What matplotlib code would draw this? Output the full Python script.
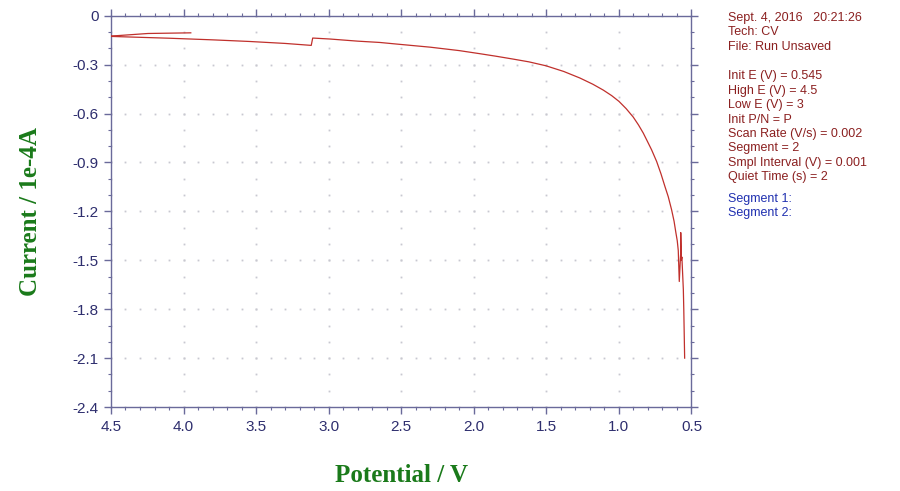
import numpy as np
import matplotlib
matplotlib.use("Agg")
import matplotlib.pyplot as plt

# segment 1: 0.545 V -> 4.5 V, then segment 2 starts back toward 3.95 V
potential = [0.547, 0.550, 0.553, 0.556, 0.560, 0.566, 0.570, 0.574, 0.574, 0.578, 0.584, 0.591,
             0.598, 0.607, 0.620, 0.637, 0.660, 0.683, 0.710, 0.740, 0.775, 0.809, 0.832, 0.865,
             0.901, 0.950, 1.000, 1.050, 1.108, 1.180, 1.269, 1.380, 1.503, 1.620, 1.729, 1.850,
             1.958, 2.100, 2.300, 2.530, 2.648, 2.800, 2.990, 3.110, 3.120, 3.300, 3.545, 3.800,
             4.100, 4.500,
             4.500, 4.245, 3.950]
current = [-2.10, -1.95, -1.80, -1.68, -1.60, -1.48, -1.50, -1.33, -1.45, -1.52, -1.63, -1.44,
           -1.38, -1.333, -1.26, -1.19, -1.11, -1.047, -0.97, -0.894, -0.822, -0.761, -0.72, -0.67,
           -0.622, -0.57, -0.525, -0.49, -0.456, -0.42, -0.382, -0.342, -0.307, -0.283, -0.266, -0.248,
           -0.233, -0.214, -0.193, -0.174, -0.164, -0.156, -0.143, -0.137, -0.182, -0.170, -0.158, -0.148,
           -0.138, -0.127,
           -0.125, -0.109, -0.105]

x_ticks = [4.5, 4.0, 3.5, 3.0, 2.5, 2.0, 1.5, 1.0, 0.5]
y_ticks = [0, -0.3, -0.6, -0.9, -1.2, -1.5, -1.8, -2.1, -2.4]
y_labels = ["0", "-0.3", "-0.6", "-0.9", "-1.2", "-1.5", "-1.8", "-2.1", "-2.4"]

info_lines = ["Sept. 4, 2016   20:21:26", "Tech: CV", "File: Run Unsaved", None,
              "Init E (V) = 0.545", "High E (V) = 4.5", "Low E (V) = 3", "Init P/N = P",
              "Scan Rate (V/s) = 0.002", "Segment = 2", "Smpl Interval (V) = 0.001",
              "Quiet Time (s) = 2"]
seg_lines = ["Segment 1:", "Segment 2:"]

axis_col = "#6a6a9a"
tick_col = "#2e2e6e"

fig = plt.figure(figsize=(9, 4.91), dpi=100)
ax = fig.add_axes([0.1233, 0.171, 0.645, 0.797])

# dotted grid: dots at minor steps along the major lines
xs_minor = np.round(np.arange(0.5, 4.5001, 0.1), 2)
ys_minor = np.round(np.arange(-2.4, 0.0001, 0.1), 2)
gx, gy = [], []
for xv in x_ticks:
    for yv in ys_minor:
        gx.append(xv); gy.append(yv)
for yv in y_ticks:
    for xv in xs_minor:
        gx.append(xv); gy.append(yv)
ax.plot(gx, gy, ls="none", marker="s", ms=1.3, mew=0, color="#c8c8d0", zorder=1)

ax.plot(potential, current, color="#c0302c", lw=0.9, zorder=3)

ax.set_xlim(4.5, 0.5)
ax.set_ylim(-2.4, 0)
ax.set_xticks(x_ticks)
ax.set_xticklabels([f"{v:.1f}" for v in x_ticks])
ax.set_yticks(y_ticks)
ax.set_yticklabels(y_labels)
ax.set_xticks(xs_minor, minor=True)
ax.set_yticks(ys_minor, minor=True)

for s in ax.spines.values():
    s.set_color(axis_col)
    s.set_linewidth(1.0)
ax.tick_params(which="both", direction="out", top=True, right=True, colors=axis_col,
               labelcolor=tick_col, labelsize=11)
ax.tick_params(which="major", length=5, width=1.0, pad=4)
ax.tick_params(which="minor", length=2.5, width=0.8)
for lab in ax.get_xticklabels() + ax.get_yticklabels():
    lab.set_fontfamily("Liberation Sans")

ax.set_xlabel("Potential / V", fontsize=18, fontweight="bold", color="#1a7a1a",
              fontfamily="Liberation Serif", labelpad=22)
ax.set_ylabel("Current / 1e-4A", fontsize=18, fontweight="bold", color="#1a7a1a",
              fontfamily="Liberation Serif", labelpad=22)

y = 1 - 18 / 491
step = 14.4 / 491
for line in info_lines:
    if line is None:
        y -= step * 1.05
        continue
    fig.text(728 / 900, y, line, fontsize=9, color="#8b2020", va="center",
             fontfamily="Liberation Sans")
    y -= step
y -= step * 0.5
for line in seg_lines:
    fig.text(728 / 900, y, line, fontsize=9, color="#2030b0", va="center",
             fontfamily="Liberation Sans")
    y -= step

fig.savefig("out.png", dpi=100)
